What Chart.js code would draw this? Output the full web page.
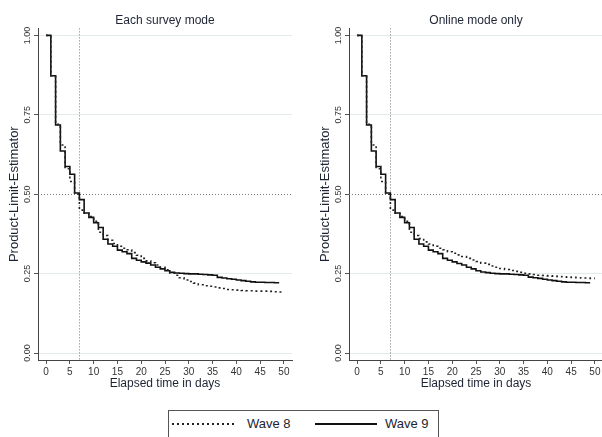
<!DOCTYPE html>
<html>
<head>
<meta charset="utf-8">
<script src="https://cdn.jsdelivr.net/npm/chart.js@4.4.1/dist/chart.umd.min.js"></script>
<style>
  html, body { margin: 0; padding: 0; background: #fff; }
  body { position: relative; width: 602px; height: 437px; overflow: hidden; font-family: "Liberation Sans", Arial, sans-serif; }
  .panel { position: absolute; top: 0; }
  #left { left: 0; }
  #right { left: 311px; }
  #legend { position: absolute; left: 168px; top: 410px; width: 271px; height: 40px; border: 1px solid #555; box-sizing: border-box; color: #1d2433; font-size: 13px; }
  #legend .sample { position: absolute; top: 12px; width: 62px; height: 1.5px; }
  #legend .dots { left: 3px; background: repeating-linear-gradient(to right, #222 0 2px, transparent 2px 5px); }
  #legend .solid { left: 146px; background: #111; }
  #legend .lab { position: absolute; top: 5px; }
</style>
</head>
<body>
<canvas id="left" class="panel" width="300" height="400"></canvas>
<canvas id="right" class="panel" width="300" height="400"></canvas>
<div id="legend">
  <div class="sample dots"></div><span class="lab" style="left:78px">Wave 8</span>
  <div class="sample solid"></div><span class="lab" style="left:216px">Wave 9</span>
</div>
<script>
// elapsed days (event times)
const days = [0, 1, 2, 3, 4, 5, 6, 7, 8, 9, 10, 11, 12, 13, 14, 15, 16, 17, 18, 19, 20,
  21, 22, 23, 24, 25, 26, 27, 28, 29, 30, 31, 32, 33, 34, 35, 36, 37, 38, 39, 40,
  41, 42, 43, 44, 45, 46, 47, 48, 49, 50];

// Each survey mode
const allWave8 = [1.000, 0.873, 0.720, 0.655, 0.580, 0.540, 0.500, 0.450, 0.440, 0.430, 0.415,
  0.380, 0.370, 0.355, 0.345, 0.336, 0.330, 0.325, 0.316, 0.308, 0.298,
  0.290, 0.284, 0.277, 0.270, 0.262, 0.252, 0.245, 0.237, 0.230, 0.225,
  0.220, 0.215, 0.212, 0.210, 0.208, 0.205, 0.203, 0.200, 0.199, 0.198,
  0.197, 0.196, 0.196, 0.195, 0.195, 0.195, 0.194, 0.193, 0.192, 0.191];
const allWave9 = [1.000, 0.873, 0.718, 0.636, 0.587, 0.563, 0.504, 0.483, 0.441, 0.427, 0.410,
  0.395, 0.358, 0.343, 0.336, 0.324, 0.319, 0.313, 0.298, 0.292, 0.287,
  0.283, 0.277, 0.270, 0.265, 0.259, 0.254, 0.252, 0.251, 0.250, 0.249,
  0.249, 0.248, 0.247, 0.246, 0.245, 0.238, 0.236, 0.234, 0.232, 0.230,
  0.228, 0.226, 0.224, 0.223, 0.223, 0.222, 0.222, 0.221, 0.221];

// Online mode only
const onlineWave8 = [1.000, 0.873, 0.720, 0.655, 0.580, 0.540, 0.500, 0.450, 0.440, 0.430, 0.415,
  0.380, 0.370, 0.360, 0.350, 0.343, 0.336, 0.330, 0.325, 0.319, 0.314,
  0.309, 0.304, 0.298, 0.293, 0.288, 0.283, 0.279, 0.274, 0.270, 0.266,
  0.263, 0.260, 0.257, 0.254, 0.251, 0.249, 0.247, 0.245, 0.244, 0.243,
  0.242, 0.241, 0.240, 0.239, 0.238, 0.237, 0.236, 0.236, 0.235, 0.235];
const onlineWave9 = [1.000, 0.873, 0.718, 0.636, 0.587, 0.563, 0.504, 0.483, 0.441, 0.427, 0.410,
  0.395, 0.358, 0.343, 0.336, 0.324, 0.319, 0.313, 0.298, 0.292, 0.287,
  0.282, 0.277, 0.270, 0.265, 0.259, 0.255, 0.253, 0.251, 0.250, 0.249,
  0.249, 0.248, 0.247, 0.246, 0.245, 0.239, 0.237, 0.235, 0.232, 0.230,
  0.228, 0.226, 0.224, 0.223, 0.223, 0.222, 0.222, 0.221, 0.221];

const xTicks = [0, 5, 10, 15, 20, 25, 30, 35, 40, 45, 50];
const yTicks = [0, 0.25, 0.5, 0.75, 1];
const medianLevel = 0.5;
const markDay = 7;

const textColor = '#1d2433';

// dotted reference lines at the median and at day 7
const refLines = {
  id: 'refLines',
  beforeDatasetsDraw(chart) {
    const { ctx, chartArea: a, scales: { x, y } } = chart;
    ctx.save();
    ctx.strokeStyle = '#777';
    ctx.lineWidth = 1;
    ctx.setLineDash([1, 2]);
    const py = Math.round(y.getPixelForValue(medianLevel)) + 0.5;
    ctx.beginPath(); ctx.moveTo(a.left, py); ctx.lineTo(a.right, py); ctx.stroke();
    const px = Math.round(x.getPixelForValue(markDay)) + 0.5;
    ctx.beginPath(); ctx.moveTo(px, a.top); ctx.lineTo(px, a.bottom); ctx.stroke();
    ctx.restore();
  }
};

function toPoints(vals) {
  return vals.map((v, i) => ({ x: days[i], y: v }));
}

function makePanel(id, title, w8, w9) {
  return new Chart(document.getElementById(id), {
    type: 'line',
    data: {
      datasets: [
        { label: 'Wave 8', data: toPoints(w8), stepped: true, borderColor: '#222', borderWidth: 1.6, borderDash: [2, 3], pointRadius: 0, fill: false },
        { label: 'Wave 9', data: toPoints(w9), stepped: true, borderColor: '#111', borderWidth: 1.6, pointRadius: 0, fill: false }
      ]
    },
    options: {
      responsive: false,
      animation: false,
      layout: { padding: { left: 0, right: 8, top: 0, bottom: 0 } },
      plugins: {
        legend: { display: false },
        tooltip: { enabled: false },
        title: {
          display: true, text: title, fullSize: false, color: textColor,
          font: { family: '"Liberation Sans", Arial, sans-serif', size: 12, weight: 'normal' },
          padding: { top: 13, bottom: 1 }
        }
      },
      scales: {
        x: {
          type: 'linear', min: -1.7, max: 51.7,
          afterBuildTicks: s => { s.ticks = xTicks.map(v => ({ value: v })); },
          afterFit: s => { s.height = 40; },
          grid: { drawOnChartArea: false, tickColor: '#555', tickLength: 4 },
          border: { color: '#444', width: 1 },
          ticks: { autoSkip: false, maxRotation: 0, padding: 2, color: '#333',
            font: { family: '"Liberation Sans", Arial, sans-serif', size: 10 } },
          title: { display: true, text: 'Elapsed time in days', color: textColor,
            font: { family: '"Liberation Sans", Arial, sans-serif', size: 12 },
            padding: { top: 0, bottom: 9 } }
        },
        y: {
          type: 'linear', min: -0.022, max: 1.022,
          afterBuildTicks: s => { s.ticks = yTicks.map(v => ({ value: v })); },
          afterFit: s => { s.width = 38; },
          grid: {
            color: c => (c.tick && c.tick.value === medianLevel) ? 'rgba(0,0,0,0)' : '#e3ebed',
            tickColor: '#555', tickLength: 4
          },
          border: { color: '#444', width: 1 },
          ticks: { autoSkip: false, minRotation: 90, maxRotation: 90, crossAlign: 'center', padding: -2,
            color: '#333', callback: v => v.toFixed(2),
            font: { family: '"Liberation Sans", Arial, sans-serif', size: 9 } },
          title: { display: true, text: 'Product-Limit-Estimator', color: textColor,
            font: { family: '"Liberation Sans", Arial, sans-serif', size: 13 },
            padding: { top: 7, bottom: 0 } }
        }
      }
    },
    plugins: [refLines]
  });
}

makePanel('left', 'Each survey mode', allWave8, allWave9);
makePanel('right', 'Online mode only', onlineWave8, onlineWave9);
</script>
</body>
</html>
